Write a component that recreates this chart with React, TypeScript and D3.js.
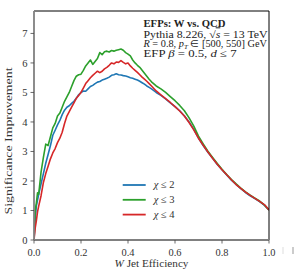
import React from "react";
import { scaleLinear, line } from "d3";

// W jet efficiency grid shared by the three curves
const effs = [
  0, 0.005, 0.01, 0.015, 0.02, 0.03, 0.04, 0.05, 0.06, 0.07, 0.08, 0.09, 0.1,
  0.11, 0.12, 0.13, 0.14, 0.15, 0.16, 0.17, 0.18, 0.19, 0.2, 0.21, 0.22, 0.23,
  0.24, 0.25, 0.26, 0.27, 0.28, 0.29, 0.3, 0.31, 0.32, 0.33, 0.34, 0.35, 0.36,
  0.37, 0.38, 0.39, 0.4, 0.41, 0.42, 0.43, 0.44, 0.45, 0.46, 0.47, 0.48, 0.49,
  0.5, 0.52, 0.54, 0.56, 0.58, 0.6, 0.62, 0.64, 0.66, 0.68, 0.7, 0.72, 0.74,
  0.76, 0.78, 0.8, 0.82, 0.84, 0.86, 0.88, 0.9, 0.92, 0.94, 0.96, 0.98, 1.0,
];

const chi2 = [
  0, 0.7, 1.15, 1.35, 1.55, 1.9, 2.25, 2.6, 2.9, 3.2, 3.55, 3.72, 3.9, 4.05,
  4.25, 4.4, 4.5, 4.55, 4.63, 4.7, 4.8, 4.92, 5.0, 5.05, 5.04, 5.12, 5.2, 5.24,
  5.3, 5.35, 5.37, 5.42, 5.45, 5.48, 5.52, 5.58, 5.6, 5.63, 5.6, 5.59, 5.57,
  5.56, 5.53, 5.5, 5.48, 5.45, 5.42, 5.38, 5.33, 5.28, 5.22, 5.17, 5.12, 5.0,
  4.9, 4.78, 4.65, 4.52, 4.38, 4.2, 4.0, 3.75, 3.45, 3.2, 2.97, 2.77, 2.56,
  2.38, 2.2, 2.03, 1.88, 1.74, 1.61, 1.5, 1.4, 1.3, 1.18, 1.02,
];

const chi3 = [
  0, 1.0, 1.25, 1.6, 1.55, 2.3, 2.8, 3.25, 3.2, 3.5, 3.8, 3.95, 4.2, 4.3, 4.5,
  4.7, 4.85, 5.0, 5.2, 5.4, 5.55, 5.6, 5.62, 5.75, 5.9, 6.0, 6.1, 5.95, 6.05,
  6.15, 6.35, 6.28, 6.38, 6.4, 6.37, 6.42, 6.4, 6.43, 6.45, 6.47, 6.43, 6.35,
  6.3, 6.24, 6.1, 6.0, 5.92, 5.85, 5.75, 5.65, 5.55, 5.45, 5.36, 5.22, 5.12,
  5.0, 4.86, 4.72, 4.56, 4.38, 4.14, 3.86, 3.52, 3.26, 3.01, 2.8, 2.59, 2.4,
  2.22, 2.05, 1.9, 1.76, 1.63, 1.52, 1.42, 1.32, 1.19, 1.02,
];

const chi4 = [
  0, 0.4, 0.65, 0.95, 1.15, 1.5, 1.95, 2.25, 2.5, 2.75, 2.95, 3.1, 3.3, 3.45,
  3.65, 3.95, 4.2, 4.35, 4.5, 4.65, 4.8, 4.9, 5.0, 5.15, 5.3, 5.4, 5.5, 5.58,
  5.65, 5.72, 5.67, 5.72, 5.8, 5.85, 5.92, 6.0, 5.97, 6.03, 6.02, 6.08, 6.02,
  5.97, 6.0, 5.9, 5.82, 5.75, 5.68, 5.6, 5.52, 5.45, 5.38, 5.3, 5.22, 5.05,
  4.92, 4.79, 4.66, 4.52, 4.37, 4.2, 3.98, 3.73, 3.45, 3.21, 2.98, 2.77, 2.57,
  2.38, 2.21, 2.04, 1.88, 1.75, 1.62, 1.51, 1.41, 1.31, 1.2, 1.02,
];

const series = [
  { label: "2", values: chi2, color: "#1f77b4" },
  { label: "3", values: chi3, color: "#2ca02c" },
  { label: "4", values: chi4, color: "#d62728" },
];

const xTicks = [0, 0.2, 0.4, 0.6, 0.8, 1.0];
const yTicks = [0, 1, 2, 3, 4, 5, 6, 7];

const font = "'Liberation Serif', serif";

const margin = { top: 11, right: 32, bottom: 39, left: 34 };
const width = 301;
const height = 279;

const App = () => {
  const innerWidth = width - margin.left - margin.right;
  const innerHeight = height - margin.top - margin.bottom;

  const xScale = scaleLinear().domain([0, 1]).range([0, innerWidth]);
  const yScale = scaleLinear().domain([0, 7.76]).range([innerHeight, 0]);

  const path = line<number>()
    .x((_, i) => xScale(effs[i]))
    .y((d) => yScale(d));

  const fit = { lengthAdjust: "spacingAndGlyphs" as const };
  const infoX = 109.5;

  return (
    <svg
      width={width}
      height={height}
      style={{ position: "absolute", left: 0, top: 0, fontFamily: font }}
    >
      <rect width={width} height={height} fill="white" />
      <g transform={`translate(${margin.left},${margin.top})`}>
        <clipPath id="plot">
          <rect x={0} y={0} width={innerWidth} height={innerHeight} />
        </clipPath>
        <g clipPath="url(#plot)">
          {series.map((s) => (
            <path
              key={s.label}
              d={path(s.values) || ""}
              fill="none"
              stroke={s.color}
              strokeWidth={1.6}
              strokeLinejoin="round"
            />
          ))}
        </g>

        {/* spines */}
        <line x1={0} x2={innerWidth} y1={0} y2={0} stroke="black" strokeWidth={1} />
        <line
          x1={innerWidth}
          x2={innerWidth}
          y1={0}
          y2={innerHeight}
          stroke="black"
          strokeWidth={1}
        />
        <line x1={0} x2={0} y1={0} y2={innerHeight} stroke="#808080" strokeWidth={1.8} />
        <line
          x1={0}
          x2={innerWidth}
          y1={innerHeight}
          y2={innerHeight}
          stroke="#808080"
          strokeWidth={1.8}
        />

        {yTicks.map((t) => (
          <g key={t} transform={`translate(0,${yScale(t)})`}>
            <line x1={-3.5} x2={0} stroke="#444" strokeWidth={0.8} />
            <text
              x={-6.5}
              dy="0.34em"
              textAnchor="end"
              fontSize={10.5}
              fill="#333"
            >
              {t}
            </text>
          </g>
        ))}
        {xTicks.map((t) => (
          <g key={t} transform={`translate(${xScale(t)},${innerHeight})`}>
            <line y1={0} y2={3.5} stroke="#444" strokeWidth={0.8} />
            <text y={15.5} textAnchor="middle" fontSize={10.5} fill="#333" textLength={13} {...fit}>
              {t.toFixed(1)}
            </text>
          </g>
        ))}

        {/* info box */}
        <g fontSize={10.3} fill="#222">
          <text x={infoX} y={16.3} fontWeight="bold" textLength={82} {...fit}>
            EFPs: W vs. QCD
          </text>
          <g transform={`translate(${infoX},26.5) scale(1.15,1)`}>
            <text>
              {"Pythia 8.226, √"}
              <tspan fontStyle="italic" textDecoration="overline">s</tspan>
              {" = 13 TeV"}
            </text>
          </g>
          <g transform={`translate(${infoX},36.3) scale(1.0,1)`}>
            <text>
              <tspan fontStyle="italic">R</tspan>
              {" = 0.8, "}
              <tspan fontStyle="italic">p</tspan>
              <tspan fontStyle="italic" fontSize={7} dy={1.5}>T</tspan>
              <tspan dy={-1.5}>{" ∈ [500, 550] GeV"}</tspan>
            </text>
          </g>
          <g transform={`translate(${infoX},46.3) scale(1.24,1)`}>
            <text>
              {"EFP "}
              <tspan fontStyle="italic">β</tspan>
              {" = 0.5, "}
              <tspan fontStyle="italic">d</tspan>
              {" ≤ 7"}
            </text>
          </g>
        </g>

        {/* legend */}
        {series.map((s, i) => (
          <g key={s.label} transform={`translate(${88.7},${185 - margin.top + i * 14.8})`}>
            <line x1={0} x2={23} stroke={s.color} strokeWidth={1.8} />
            <text x={31} dy="0.33em" fontSize={10.5} fill="#333">
              <tspan fontStyle="italic">χ</tspan>
              {` ≤ ${s.label}`}
            </text>
          </g>
        ))}

        <text
          transform={`translate(${-22},${130}) rotate(-90)`}
          textAnchor="middle"
          fontSize={10.5}
          fill="#333"
          textLength={147}
          {...fit}
        >
          Significance Improvement
        </text>
        <g transform={`translate(${innerWidth / 2},${innerHeight + 27}) scale(1.07,1)`}>
          <text textAnchor="middle" fontSize={10.5} fill="#333">
            <tspan fontStyle="italic">W</tspan> Jet Efficiency
          </text>
        </g>
      </g>
      <line x1={283} x2={283} y1={247} y2={254} stroke="#ddd" strokeWidth={1} />
      <line x1={293} x2={293} y1={247} y2={254} stroke="#999" strokeWidth={1} />
    </svg>
  );
};

export default App;
